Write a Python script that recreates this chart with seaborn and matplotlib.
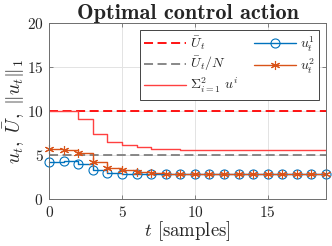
import numpy as np
import pandas as pd
import matplotlib
matplotlib.use('Agg')
import matplotlib.pyplot as plt
import seaborn as sns

# values
t = list(range(20))
u1 = [4.25, 4.35, 3.95, 3.3, 2.92, 2.8, 2.8, 2.8, 2.8, 2.8,
      2.8, 2.8, 2.8, 2.8, 2.8, 2.8, 2.8, 2.8, 2.8, 2.8]
u2 = [5.75, 5.6, 5.2, 4.17, 3.57, 3.3, 3.1, 2.92, 2.82, 2.8,
      2.8, 2.8, 2.8, 2.8, 2.8, 2.8, 2.8, 2.8, 2.8, 2.8]
u_sum = [10.0, 10.0, 9.15, 7.45, 6.5, 6.1, 5.9, 5.75, 5.65, 5.6,
         5.6, 5.6, 5.6, 5.6, 5.6, 5.6, 5.6, 5.58, 5.55, 5.55]
u_bar = 10.0
n_agents = 2

df = pd.DataFrame({'t': t, 'u1': u1, 'u2': u2, 'usum': u_sum})

sns.set_style('ticks')
plt.rcParams['font.family'] = ['cmr10', 'DejaVu Serif']
plt.rcParams['mathtext.fontset'] = 'cm'
plt.rcParams['axes.formatter.use_mathtext'] = True

fig = plt.figure(figsize=(3.32, 2.46), dpi=100)
ax = fig.add_axes([0.148, 0.191, 0.834, 0.714])

blue = '#0072BD'
orange = '#D95319'

ax.axhline(u_bar, color='#FF0000', lw=1.3, dashes=(5, 2.5), label=r'$\bar{U}_t$')
ax.axhline(u_bar / n_agents, color='#7F7F7F', lw=1.3, dashes=(5, 2.5), label=r'$\bar{U}_t/N$')
sns.lineplot(data=df, x='t', y='usum', ax=ax, color='#FF4040', lw=1.0,
             drawstyle='steps-post', label=r'$\Sigma_{i=1}^{2}\ u^i$')
sns.lineplot(data=df, x='t', y='u1', ax=ax, color=blue, lw=1.0,
             drawstyle='steps-post', marker='o', markersize=6.5,
             markerfacecolor='none', markeredgecolor=blue, markeredgewidth=0.8,
             clip_on=False, label=r'$u_t^1$')
sns.lineplot(data=df, x='t', y='u2', ax=ax, color=orange, lw=1.0,
             drawstyle='steps-post', marker=(6, 2, 0), markersize=6.5,
             markeredgecolor=orange, markeredgewidth=0.8,
             clip_on=False, label=r'$u_t^2$')

ax.set_xlim(0, 19)
ax.set_ylim(0, 20)
ax.set_xticks([0, 5, 10, 15])
ax.set_yticks([0, 5, 10, 15, 20])
ax.grid(True, color='#E3E3E3', lw=0.7)
ax.set_axisbelow(True)
for s in ax.spines.values():
    s.set_visible(True)
    s.set_color('#6E6E6E')
    s.set_linewidth(0.7)
ax.tick_params(direction='in', top=True, right=True, length=3, width=0.6,
               labelsize=11, colors='#6E6E6E', labelcolor='#262626', pad=4)

ax.set_xlabel(r'$t$ [samples]', fontsize=13.5, labelpad=0)
ax.set_ylabel(r'$u_t,\ \bar{U},\ \|u_t\|_1$', fontsize=14, labelpad=0)
ax.set_title('Optimal control action', fontsize=16, family='cmb10', pad=3)

leg = ax.legend(ncol=2, loc='upper right', fontsize=10, frameon=True,
                fancybox=False, edgecolor='#262626', framealpha=1,
                handlelength=3.0, columnspacing=1.1, labelspacing=0.2,
                borderpad=0.3, handletextpad=0.3, borderaxespad=0.5)
leg.get_frame().set_linewidth(0.6)

fig.savefig('out.png', dpi=100)
